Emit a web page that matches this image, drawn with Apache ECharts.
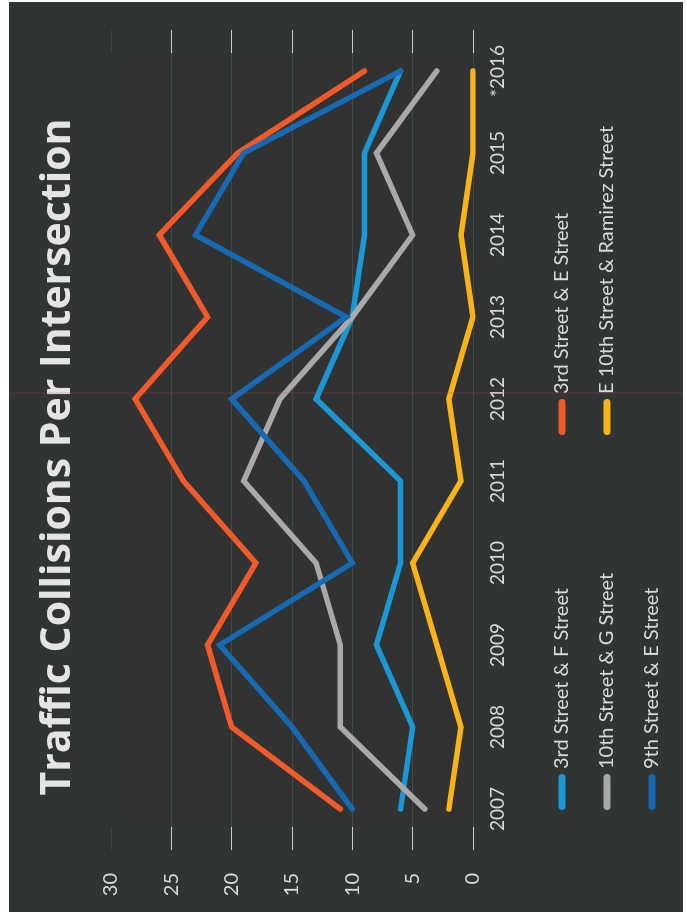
<!DOCTYPE html>
<html>
<head>
<meta charset="utf-8">
<script src="https://cdn.jsdelivr.net/npm/echarts/dist/echarts.min.js"></script>
<style>
  html, body { margin: 0; padding: 0; background: #ffffff; width: 687px; height: 919px; overflow: hidden; }
  /* The chart is laid out in landscape and turned a quarter turn counter-clockwise onto the page */
  #chart {
    position: absolute; left: 9px; top: 0;
    width: 910px; height: 674px;
    transform-origin: 0 0;
    transform: translateY(912px) rotate(-90deg);
  }
</style>
</head>
<body>
<div id="chart"></div>
<script>
// Collision counts per year for each intersection
const years = ['2007', '2008', '2009', '2010', '2011', '2012', '2013', '2014', '2015', '*2016'];
const thirdStF = [6, 5, 8, 6, 6, 13, 10, 9, 9, 6];
const thirdStE = [11, 20, 22, 18, 24, 28, 22, 26, 19.5, 9];
const tenthStG = [4, 11, 11, 13, 19, 16, 10, 5, 8, 3];
const tenthRamirez = [2, 1, 3, 5, 1, 2, 0, 1, 0, 0];
const ninthStE = [10, 15, 21, 10, 14, 20, 10.5, 23, 19, 6];

const seriesNames = ['3rd Street & F Street', '3rd Street & E Street', '10th Street & G Street',
                     'E 10th Street & Ramirez Street', '9th Street & E Street'];
const seriesData = [thirdStF, thirdStE, tenthStG, tenthRamirez, ninthStE];
const seriesColors = ['#1d97d4', '#f25a2c', '#a9a9a9', '#fbb418', '#1769b1'];

const BG = '#303433';
const LABEL = '#dadada';
const capsule = 'path://M3.5,0 L32.5,0 A3.5,3.5 0 0 1 32.5,7 L3.5,7 A3.5,3.5 0 0 1 3.5,0 Z';

const chart = echarts.init(document.getElementById('chart'), null, { renderer: 'canvas', width: 910, height: 674 });

const legendText = { color: LABEL, fontSize: 20, fontFamily: 'Lato', lineHeight: 20 };

chart.setOption({
  animation: false,
  backgroundColor: BG,
  title: {
    text: 'Traffic Collisions Per Intersection',
    left: 'center',
    top: 24,
    textStyle: { color: '#e4e4e4', fontSize: 41, fontWeight: 'bold', fontFamily: 'Open Sans' }
  },
  grid: { left: 62, right: 28, top: 102, bottom: 210 },
  xAxis: {
    type: 'category',
    data: years,
    boundaryGap: true,
    axisLine: { show: false },
    axisTick: { show: false },
    axisLabel: { color: LABEL, fontSize: 19, fontFamily: 'Lato', margin: 15 }
  },
  yAxis: {
    type: 'value',
    min: 0, max: 30, interval: 5,
    axisLine: { show: false },
    axisTick: { show: false },
    axisLabel: { color: LABEL, fontSize: 20, fontFamily: 'Lato', margin: 23 },
    splitLine: { lineStyle: { color: 'rgba(255,255,255,0.75)', width: 1 } }
  },
  legend: [
    {
      orient: 'vertical', left: 97, top: 538, itemGap: 25,
      itemWidth: 36, itemHeight: 7, icon: capsule,
      itemStyle: { borderWidth: 0 },
      data: [seriesNames[0], seriesNames[2], seriesNames[4]],
      textStyle: legendText
    },
    {
      orient: 'vertical', left: 472, top: 538, itemGap: 25,
      itemWidth: 36, itemHeight: 7, icon: capsule,
      itemStyle: { borderWidth: 0 },
      data: [seriesNames[1], seriesNames[3]],
      textStyle: legendText
    }
  ],
  graphic: [
    // plot-area panel that softens the gridlines, leaving their ends bright
    { type: 'rect', z: 1, silent: true, shape: { x: 85, y: 90, width: 774, height: 380 },
      style: { fill: 'rgba(48,52,51,0.87)' } },
    // keep the top (30) gridline out of the frame
    { type: 'rect', z: 1, silent: true, shape: { x: 50, y: 99, width: 845, height: 6 },
      style: { fill: 'rgba(48,52,51,0.9)' } },
    // thin red crease across the sheet
    { type: 'line', z: 10, silent: true, shape: { x1: 519, y1: 0, x2: 519, y2: 674 },
      style: { stroke: 'rgba(210,50,70,0.35)', lineWidth: 1 } }
  ],
  series: seriesNames.map((name, i) => ({
    name: name,
    type: 'line',
    data: seriesData[i],
    symbol: 'none',
    color: seriesColors[i],
    lineStyle: { width: 5.5, color: seriesColors[i], cap: 'round', join: 'miter' },
    z: 2 + i * 0.1
  }))
});
</script>
</body>
</html>
